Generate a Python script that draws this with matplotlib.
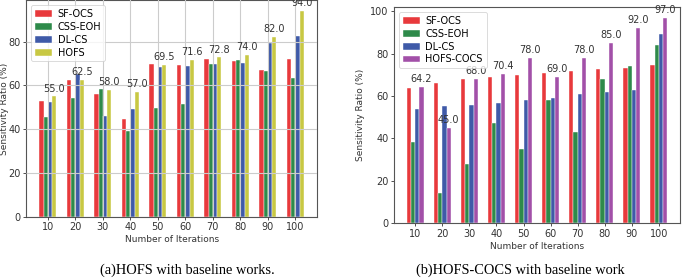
import matplotlib
matplotlib.use("Agg")
import matplotlib.pyplot as plt
import numpy as np

iterations = ["10", "20", "30", "40", "50", "60", "70", "80", "90", "100"]

# Panel (a)
a_sf_ocs = [52.8, 62.3, 56.0, 44.6, 70.0, 69.3, 71.9, 71.0, 67.1, 71.9]
a_css_eoh = [45.4, 54.3, 58.4, 39.4, 49.6, 51.6, 69.6, 71.6, 66.8, 63.5]
a_dl_cs = [52.5, 65.2, 45.8, 49.3, 68.2, 68.7, 69.6, 70.3, 79.3, 82.4]
a_hofs = [55.0, 62.5, 58.0, 57.0, 69.5, 71.6, 72.8, 74.0, 82.0, 94.0]

# Panel (b)
b_sf_ocs = [63.8, 66.0, 67.9, 68.8, 69.8, 70.9, 71.8, 72.9, 73.3, 74.8]
b_css_eoh = [38.1, 14.2, 28.0, 47.1, 35.0, 58.1, 43.0, 68.2, 74.2, 84.1]
b_dl_cs = [53.9, 55.1, 55.8, 56.9, 58.1, 58.9, 60.8, 62.0, 62.8, 89.3]
b_hofs_cocs = [64.2, 45.0, 68.0, 70.4, 78.0, 69.0, 78.0, 85.0, 92.0, 97.0]

RED = "#e8393c"
GREEN = "#2e8a4a"
BLUE = "#3f5aa8"
YELLOW = "#c8c843"
PURPLE = "#a250a8"

fig = plt.figure(figsize=(6.85, 2.79), dpi=100)
ax1 = fig.add_axes([0.038, 0.223, 0.425, 0.777])
ax2 = fig.add_axes([0.575, 0.200, 0.418, 0.775])

w = 0.155
offs = [-1.5 * w, -0.5 * w, 0.5 * w, 1.5 * w]
x = np.arange(len(iterations))


def draw(ax, series, names, colors, ymax, grid):
    bars = None
    for s, n, c, o in zip(series, names, colors, offs):
        bars = ax.bar(x + o, s, w, color=c, label=n, edgecolor="white", linewidth=0.3)
    for b, v in zip(bars, series[-1]):
        ax.annotate(f"{v:.1f}", (b.get_x() + b.get_width() / 2, v),
                    xytext=(0, 2), textcoords="offset points",
                    ha="center", va="bottom", fontsize=7, color="#333333")
    ax.set_xticks(x)
    ax.set_xticklabels(iterations)
    ax.set_ylim(0, ymax)
    ax.tick_params(labelsize=7, length=2, width=0.6, pad=2, colors="#333333")
    ax.set_xlabel("Number of Iterations", fontsize=6.5, labelpad=2, color="#333333")
    ax.set_ylabel("Sensitivity Ratio (%)", fontsize=6.5, labelpad=2, color="#333333")
    for sp in ax.spines.values():
        sp.set_color("#555555")
        sp.set_linewidth(0.8)
    if grid:
        ax.grid(True, color="#cccccc", linewidth=0.8)
        ax.set_axisbelow(False)
    leg = ax.legend(loc="upper left", fontsize=7, frameon=True, fancybox=True,
                    borderpad=0.4, labelspacing=0.3, handlelength=1.75,
                    handletextpad=0.6)
    leg.get_frame().set_linewidth(0.6)


draw(ax1, [a_sf_ocs, a_css_eoh, a_dl_cs, a_hofs],
     ["SF-OCS", "CSS-EOH", "DL-CS", "HOFS"],
     [RED, GREEN, BLUE, YELLOW], 99, True)
draw(ax2, [b_sf_ocs, b_css_eoh, b_dl_cs, b_hofs_cocs],
     ["SF-OCS", "CSS-EOH", "DL-CS", "HOFS-COCS"],
     [RED, GREEN, BLUE, PURPLE], 102, False)
ax1.set_yticks([0, 20, 40, 60, 80])
ax2.set_yticks([0, 20, 40, 60, 80, 100])
ax1.yaxis.set_label_coords(-0.060, 0.5)
ax2.yaxis.set_label_coords(-0.100, 0.5)

fig.text(0.273, 0.008, "(a)HOFS with baseline works.", ha="center", va="bottom",
         fontsize=10.4, family="Liberation Serif")
fig.text(0.760, 0.008, "(b)HOFS-COCS with baseline work", ha="center", va="bottom",
         fontsize=10.4, family="Liberation Serif")

fig.savefig("out.png", dpi=100)
